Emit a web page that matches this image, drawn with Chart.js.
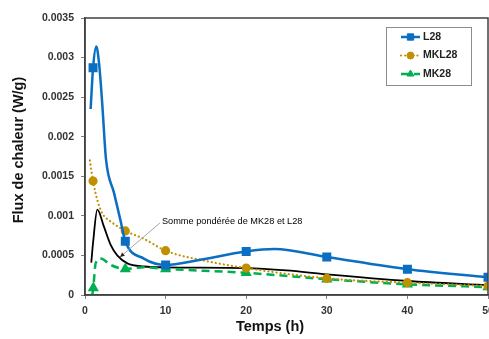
<!DOCTYPE html>
<html>
<head>
<meta charset="utf-8">
<script src="https://cdn.jsdelivr.net/npm/chart.js@4.4.1/dist/chart.umd.min.js"></script>
<style>
  html, body { margin: 0; padding: 0; background: #fff; }
</style>
</head>
<body>
<canvas id="myChart" width="489" height="339"></canvas>
<script>
// temps (h) / flux (W/g)
const l28Time = [0.7, 1, 1.4, 1.75, 2.15, 2.6, 3.6, 4.43, 5, 7.3, 10, 14, 20, 23.5, 30, 40, 50];
const l28Flux = [0.00235, 0.00287, 0.00314, 0.00292, 0.0024, 0.00172, 0.00129, 0.00093, 0.00068, 0.00046, 0.00038, 0.00044, 0.00055, 0.00058, 0.00048, 0.000325, 0.000224];
const l28Marks = [1, 5, 10, 20, 30, 40, 50];

const mkl28Time = [0.6, 1, 1.53, 2.15, 3.18, 5, 7.3, 10, 15, 20, 30, 40, 50];
const mkl28Flux = [0.0017, 0.00144, 0.0012, 0.00103, 0.00093, 0.00081, 0.00071, 0.00056, 0.00043, 0.00034, 0.00021, 0.000156, 0.000114];
const mkl28Marks = [1, 5, 10, 20, 30, 40, 50];

const mk28Time = [0.9, 1.03, 1.32, 1.95, 3.18, 5, 7.3, 10, 20, 30, 40, 50];
const mk28Flux = [0, 0.00009, 0.0004, 0.00046, 0.00038, 0.00033, 0.00035, 0.00033, 0.00028, 0.0002, 0.000135, 0.0001];
const mk28Marks = [1.03, 5, 10, 20, 30, 40, 50];

// somme pondérée de MK28 et L28 (black line, no legend)
const sumTime = [0.78, 1, 1.53, 2.36, 3.2, 4, 5.25, 7.3, 10, 20, 25, 30, 40, 50];
const sumFlux = [0.00041, 0.00066, 0.00108, 0.00086, 0.00063, 0.0005, 0.0004, 0.00036, 0.00035, 0.00034, 0.00031, 0.00026, 0.000177, 0.000123];

const xTicks = [0, 10, 20, 30, 40, 50];
const yTicks = [0, 0.0005, 0.001, 0.0015, 0.002, 0.0025, 0.003, 0.0035];

const toPts = (t, v) => t.map((x, i) => ({ x: x, y: v[i] }));
const markAt = (marks, r) => ctx => (ctx.raw && marks.includes(ctx.raw.x)) ? r : 0;

const BLUE = '#0A6FC2', GOLD = '#BF9000', GREEN = '#00B050';

const extras = {
  id: 'extras',
  afterDatasetsDraw(chart) {
    const { ctx, chartArea: a, scales: { x, y } } = chart;
    ctx.save();
    // frame
    ctx.strokeStyle = '#404040';
    ctx.lineWidth = 1.5;
    ctx.strokeRect(a.left, a.top, a.right - a.left, a.bottom - a.top);

    // annotation + arrow
    const sx = x.getPixelForValue(9.3), sy = y.getPixelForValue(0.00091);
    const ex = x.getPixelForValue(4.35), ey = y.getPixelForValue(0.00048);
    ctx.strokeStyle = '#A6A6A6';
    ctx.lineWidth = 1;
    ctx.beginPath(); ctx.moveTo(sx, sy); ctx.lineTo(ex, ey); ctx.stroke();
    const ang = Math.atan2(ey - sy, ex - sx);
    ctx.fillStyle = '#222';
    ctx.beginPath();
    ctx.moveTo(ex, ey);
    ctx.lineTo(ex - 5 * Math.cos(ang - 0.45), ey - 5 * Math.sin(ang - 0.45));
    ctx.lineTo(ex - 5 * Math.cos(ang + 0.45), ey - 5 * Math.sin(ang + 0.45));
    ctx.closePath(); ctx.fill();
    ctx.font = '9.2px "Liberation Sans", Arial, sans-serif';
    ctx.fillStyle = '#000';
    ctx.textBaseline = 'middle';
    ctx.textAlign = 'left';
    ctx.fillText('Somme pondérée de MK28 et L28', x.getPixelForValue(9.55), y.getPixelForValue(0.00093));

    // legend box
    const bx = 386, by = 27, bw = 85, bh = 58;
    ctx.fillStyle = '#fff';
    ctx.fillRect(bx, by, bw, bh);
    ctx.strokeStyle = '#8C8C8C';
    ctx.lineWidth = 1;
    ctx.strokeRect(bx + 0.5, by + 0.5, bw, bh);
    ctx.font = 'bold 10.5px "Liberation Sans", Arial, sans-serif';
    chart.data.datasets.forEach(ds => {
      if (!ds.inLegend) return;
      const ry = by + 10 + ds.legendRow * 18.5;
      ctx.strokeStyle = ds.borderColor;
      ctx.lineWidth = ds.borderWidth;
      ctx.lineCap = ds.borderCapStyle || 'butt';
      ctx.setLineDash(ds.borderDash || []);
      ctx.beginPath(); ctx.moveTo(bx + 15, ry); ctx.lineTo(bx + 34, ry); ctx.stroke();
      ctx.setLineDash([]);
      ctx.fillStyle = ds.pointBackgroundColor;
      ctx.strokeStyle = ds.pointBorderColor;
      ctx.lineWidth = 1;
      Chart.helpers.drawPoint(ctx, { pointStyle: ds.pointStyle, radius: ds.legendRadius, borderWidth: 1 }, bx + 24.5, ry);
      ctx.fillStyle = '#222';
      ctx.fillText(ds.label, bx + 37, ry);
    });

    // axis titles
    ctx.fillStyle = '#111';
    ctx.font = 'bold 14.5px "Liberation Sans", Arial, sans-serif';
    ctx.textAlign = 'center';
    ctx.fillText('Temps (h)', 270, 327);
    ctx.translate(19, 150);
    ctx.rotate(-Math.PI / 2);
    ctx.fillText('Flux de chaleur (W/g)', 0, 0);
    ctx.restore();
  }
};

const ctx = document.getElementById('myChart');
new Chart(ctx, {
  type: 'line',
  data: {
    datasets: [
      {
        label: 'L28', data: toPts(l28Time, l28Flux), inLegend: true, legendRow: 0, legendRadius: 4.5,
        borderColor: BLUE, borderWidth: 2.5, pointStyle: 'rect',
        pointBackgroundColor: BLUE, pointBorderColor: BLUE, pointRadius: markAt(l28Marks, 4.6),
        cubicInterpolationMode: 'monotone', order: 1
      },
      {
        label: 'MKL28', data: toPts(mkl28Time, mkl28Flux), inLegend: true, legendRow: 1, legendRadius: 3.5,
        borderColor: GOLD, borderWidth: 2.2, borderDash: [0.1, 4], borderCapStyle: 'round', pointStyle: 'circle',
        pointBackgroundColor: GOLD, pointBorderColor: GOLD, pointRadius: markAt(mkl28Marks, 3.5),
        cubicInterpolationMode: 'monotone', order: 2
      },
      {
        label: 'MK28', data: toPts(mk28Time, mk28Flux), inLegend: true, legendRow: 2, legendRadius: 4,
        borderColor: GREEN, borderWidth: 2.5, borderDash: [8, 5], pointStyle: 'triangle',
        pointBackgroundColor: GREEN, pointBorderColor: GREEN, pointRadius: markAt(mk28Marks, 4),
        cubicInterpolationMode: 'monotone', order: 3
      },
      {
        label: 'Somme pondérée', data: toPts(sumTime, sumFlux),
        borderColor: '#000', borderWidth: 1.8, pointRadius: 0,
        cubicInterpolationMode: 'monotone', order: 4
      }
    ]
  },
  options: {
    responsive: false,
    animation: false,
    devicePixelRatio: 1,
    layout: { autoPadding: false, padding: { top: 18, right: 1, left: 0, bottom: 0 } },
    plugins: { legend: { display: false }, tooltip: { enabled: false } },
    scales: {
      x: {
        type: 'linear', min: 0, max: 50,
        afterFit: s => { s.height = 44; s.paddingRight = 0; },
        afterBuildTicks: s => { s.ticks = xTicks.map(v => ({ value: v })); },
        ticks: { color: '#333', padding: 6, maxRotation: 0, font: { family: '"Liberation Sans", Arial', size: 10.5, weight: 'bold' } },
        grid: { drawOnChartArea: false, drawTicks: true, tickLength: 4, color: '#808080' },
        border: { color: '#404040', width: 1.5 }
      },
      y: {
        type: 'linear', min: 0, max: 0.0035,
        afterFit: s => { s.width = 85; },
        afterBuildTicks: s => { s.ticks = yTicks.map(v => ({ value: v })); },
        ticks: {
          color: '#333', padding: 7,
          font: { family: '"Liberation Sans", Arial', size: 10.5, weight: 'bold' },
          callback: v => v === 0 ? '0' : String(+v.toFixed(4))
        },
        grid: { drawOnChartArea: false, drawTicks: true, tickLength: 4, color: '#808080' },
        border: { color: '#404040', width: 1.5 }
      }
    }
  },
  plugins: [extras]
});
</script>
</body>
</html>
